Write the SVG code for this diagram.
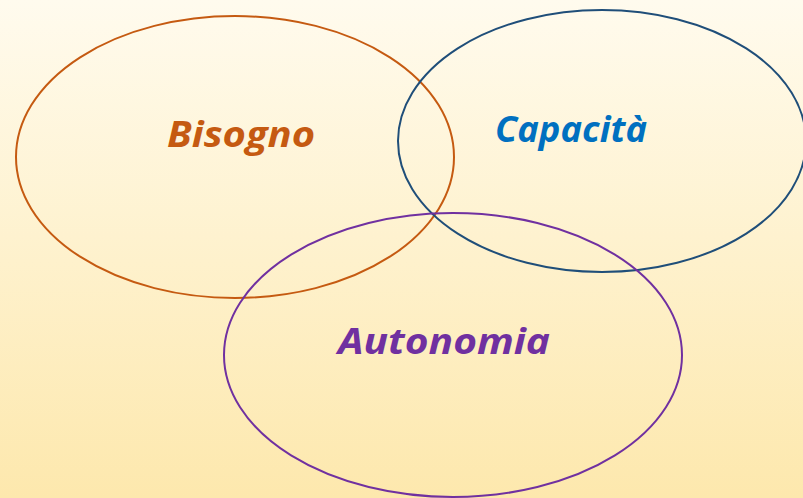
<svg xmlns="http://www.w3.org/2000/svg" width="803" height="498" viewBox="0 0 803 498">
<defs>
<linearGradient id="bg" x1="0" y1="0" x2="0" y2="1">
<stop offset="0" stop-color="#FFFBEE"/>
<stop offset="1" stop-color="#FDE8AD"/>
</linearGradient>
<style>
.ring{fill:none;stroke-width:2}
.lbl{font-family:"Open Sans","Liberation Sans",sans-serif;font-weight:bold;font-style:italic;font-size:36px;text-anchor:middle}
</style>
</defs>
<rect x="0" y="0" width="803" height="498" fill="url(#bg)"/>
<g id="bisogno">
<ellipse class="ring" cx="235" cy="157" rx="219" ry="141" stroke="#C55A11"/>
<text class="lbl" x="241" y="147" fill="#C55A11" textLength="148" lengthAdjust="spacingAndGlyphs">Bisogno</text>
</g>
<g id="capacita">
<ellipse class="ring" cx="602" cy="141" rx="204" ry="131" stroke="#1F4E79"/>
<text class="lbl" x="571" y="142" fill="#0070C0" textLength="152" lengthAdjust="spacingAndGlyphs">Capacità</text>
</g>
<g id="autonomia">
<ellipse class="ring" cx="453" cy="355" rx="229" ry="142" stroke="#7030A0"/>
<text class="lbl" x="444" y="354" fill="#7030A0" textLength="212" lengthAdjust="spacingAndGlyphs">Autonomia</text>
</g>
<g id="connectors"/>
</svg>
